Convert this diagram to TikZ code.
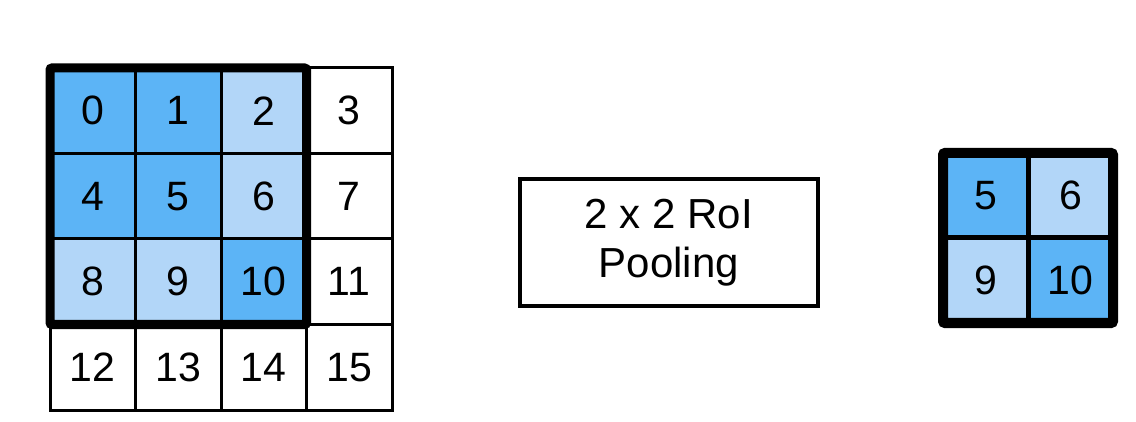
\documentclass[tikz,border=0pt]{standalone}
\usepackage{fontspec}
\setmainfont{Liberation Sans}
\definecolor{dblue}{RGB}{92,180,246}
\definecolor{lblue}{RGB}{178,214,248}
\begin{document}
\begin{tikzpicture}[x=1pt,y=-1pt,
  cell/.style={draw=black,line width=3pt,minimum width=85.5pt,minimum height=85.5pt,inner sep=0pt,outer sep=0pt,font=\fontsize{41}{48}\selectfont},
  rcell/.style={draw=black,line width=5pt,minimum width=85pt,minimum height=85pt,inner sep=0pt,outer sep=0pt,font=\fontsize{41}{48}\selectfont},
  thickframe/.style={draw=black,line width=9pt,rounded corners=2pt},
  poolbox/.style={draw=black,line width=4pt,minimum width=298pt,minimum height=127pt,inner sep=0pt,outer sep=0pt,align=center,font=\fontsize{42}{49}\selectfont}]
\useasboundingbox (0,0) rectangle (1136,422);
% input grid
\foreach \n/\c in {0/dblue,1/dblue,2/lblue,3/white,4/dblue,5/dblue,6/lblue,7/white,8/lblue,9/lblue,10/dblue,11/white,12/white,13/white,14/white,15/white}{
  \pgfmathtruncatemacro{\col}{mod(\n,4)}
  \pgfmathtruncatemacro{\row}{div(\n,4)}
  \node[cell,fill=\c] (c\n) at ({50+85.5*\col+42.75},{68+85.5*\row+42.75}) {\n};
}
\draw[thickframe] (c0.north west) rectangle (c10.south east);
% pooling box
\node[poolbox] (pool) at (669,242.5) {2 x 2 RoI\\Pooling};
% output grid
\node[rcell,fill=dblue] (r5) at (985.5,195.5) {5};
\node[rcell,fill=lblue] (r6) at (1070.5,195.5) {6};
\node[rcell,fill=lblue] (r9) at (985.5,280.5) {9};
\node[rcell,fill=dblue] (r10) at (1070.5,280.5) {10};
\draw[draw=black,line width=10pt,rounded corners=2pt] (r5.north west) rectangle (r10.south east);
\end{tikzpicture}
\end{document}
